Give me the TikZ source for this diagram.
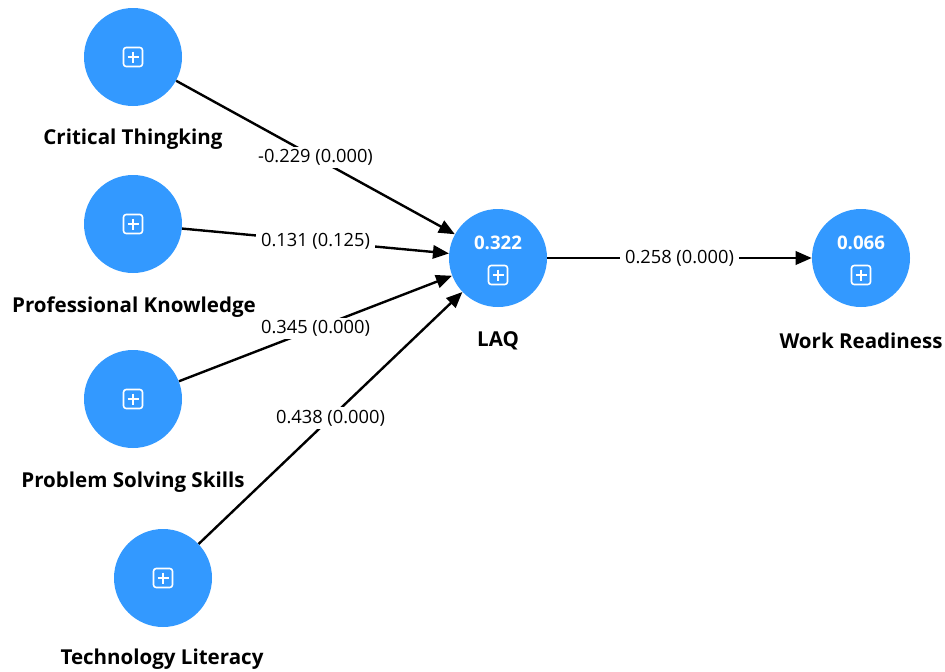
\documentclass[tikz,border=0pt]{standalone}
\usepackage{fontspec}
\setmainfont{Open Sans}
\usetikzlibrary{arrows.meta}
\definecolor{nodeblue}{RGB}{51,153,255}
\newcommand{\plusicon}[1]{%
  \begin{scope}[shift={(#1)}]
    \draw [white, line width=1.2pt, rounded corners=2pt] (-9.5,-9.5) rectangle (9.5,9.5);
    \draw [white, line width=1.2pt] (-5.5,0) -- (5.5,0) (0,-5.5) -- (0,5.5);
  \end{scope}}

\begin{document}
\begin{tikzpicture}[x=0.75pt,y=-0.75pt]
		\tikzstyle{every node}+=[inner sep=0pt]
		\tikzstyle{latent}=[circle, fill=nodeblue, minimum size=73.5pt]
		\tikzstyle{lvname}=[font=\bfseries\fontsize{15.4}{18}\selectfont]
		\tikzstyle{rsq}=[text=white, font=\bfseries\fontsize{14}{16}\selectfont]
		\tikzstyle{relarrow}=[black, line width=1.8pt, -{Triangle[length=12pt, width=10pt]}]
		\tikzstyle{coef}=[fill=white, inner xsep=4pt, inner ysep=2pt, font=\fontsize{13.7}{16}\selectfont]
		\useasboundingbox (0,0) rectangle (945,671);
		\node [latent] (ct) at (133,57) {};
		\node [lvname] (ctlab) at (133,139) {Critical Thingking};
		\node [latent] (pk) at (133,224) {};
		\node [lvname] (pklab) at (134,307) {Professional Knowledge};
		\node [latent] (ps) at (133,399) {};
		\node [lvname] (pslab) at (133,482) {Problem Solving Skills};
		\node [latent] (tl) at (163,578) {};
		\node [lvname] (tllab) at (162,659) {Technology Literacy};
		\node [latent] (laq) at (498,258) {};
		\node [lvname] (laqlab) at (498,341) {LAQ};
		\node [rsq] (laqr) at (498,243) {0.322};
		\node [latent] (wr) at (861,258) {};
		\node [lvname] (wrlab) at (861,341) {Work Readiness};
		\node [rsq] (wrr) at (861,243) {0.066};
		\plusicon{ct}
		\plusicon{pk}
		\plusicon{ps}
		\plusicon{tl}
		\plusicon{498,275}
		\plusicon{861,275}
		\draw [relarrow] (ct) -- (laq) node [coef, pos=0.5] {-0.229 (0.000)};
		\draw [relarrow] (pk) -- (laq) node [coef, pos=0.5] {0.131 (0.125)};
		\draw [relarrow] (ps) -- (laq) node [coef, pos=0.5] {0.345 (0.000)};
		\draw [relarrow] (tl) -- (laq) node [coef, pos=0.5] {0.438 (0.000)};
		\draw [relarrow] (laq) -- (wr) node [coef, pos=0.5] {0.258 (0.000)};
	\end{tikzpicture}
\end{document}
